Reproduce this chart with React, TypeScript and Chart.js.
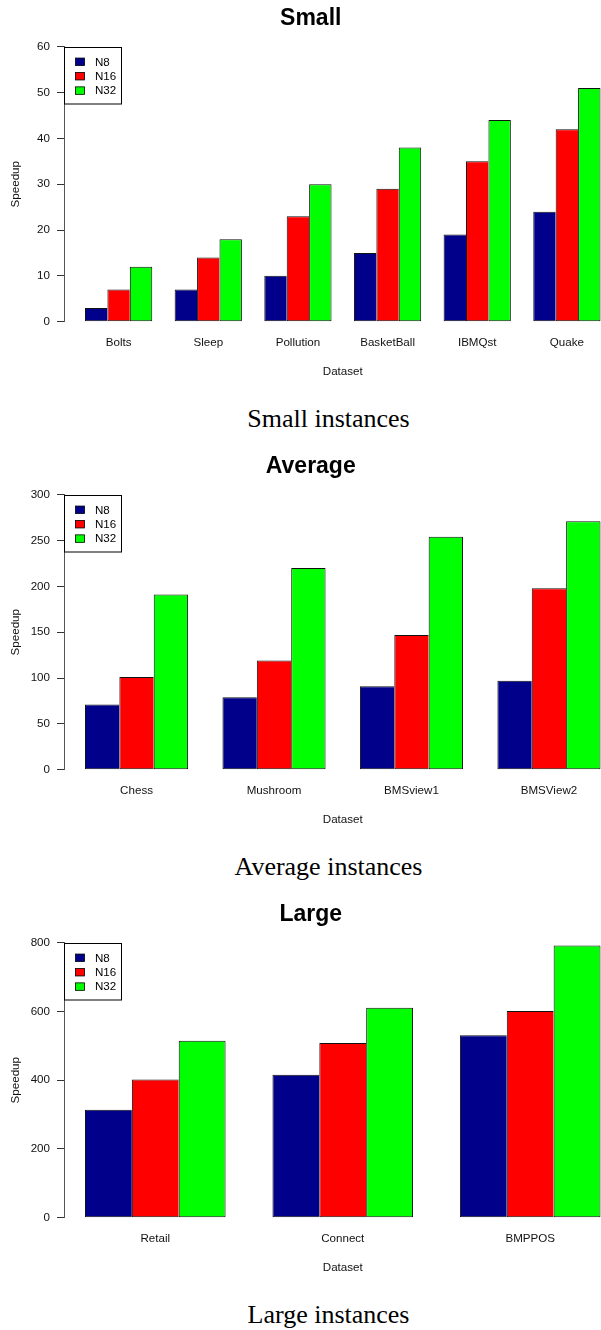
import React, { useEffect, useRef } from "react";
import { Chart, registerables } from "chart.js";

Chart.register(...registerables);

// ---------- data ----------
const seriesLabels = ["N8", "N16", "N32"];
const seriesColors = ["#00008B", "#FF0000", "#00FF00"];

const smallCategories = ["Bolts", "Sleep", "Pollution", "BasketBall", "IBMQst", "Quake"];
const smallN8 = [3, 7, 10, 15, 19, 24];
const smallN16 = [7, 14, 23, 29, 35, 42];
const smallN32 = [12, 18, 30, 38, 44, 51];
const smallYTicks = [0, 10, 20, 30, 40, 50, 60];

const averageCategories = ["Chess", "Mushroom", "BMSview1", "BMSView2"];
const averageN8 = [71, 79, 91, 97];
const averageN16 = [101, 119, 147, 198];
const averageN32 = [191, 220, 254, 271];
const averageYTicks = [0, 50, 100, 150, 200, 250, 300];

const largeCategories = ["Retail", "Connect", "BMPPOS"];
const largeN8 = [314, 416, 531];
const largeN16 = [402, 508, 601];
const largeN32 = [515, 611, 792];
const largeYTicks = [0, 200, 400, 600, 800];

// ---------- layout constants ----------
const CANVAS_W = 686;
const CANVAS_H = 382;
const BLOCK_H = 448;
const Y_AXIS_W = 64;
const PAD_RIGHT = 64.5;
const INSET = 21;
const GROUP_FRACTION = 0.75;
const SANS = '"Liberation Sans", Arial, Helvetica, sans-serif';
const AXIS_FONT = { family: SANS, size: 11.6 };

const boxLegend = {
  id: "boxLegend",
  afterDraw(chart: any) {
    const { ctx, chartArea } = chart;
    const x0 = Math.round(chartArea.left) + 0.5;
    const y0 = Math.round(chartArea.top) + 0.5;
    const w = 57;
    const h = 56.5;
    ctx.save();
    ctx.fillStyle = "#ffffff";
    ctx.fillRect(x0, y0, w, h);
    ctx.strokeStyle = "#000000";
    ctx.lineWidth = 1;
    ctx.strokeRect(x0, y0, w, h);
    ctx.font = `11.6px ${SANS}`;
    ctx.textBaseline = "middle";
    ctx.textAlign = "left";
    chart.data.datasets.forEach((ds: any, i: number) => {
      const cy = y0 + 14.3 + 14.4 * i;
      ctx.fillStyle = ds.backgroundColor;
      ctx.fillRect(x0 + 11, cy - 3.75, 9, 7.5);
      ctx.strokeStyle = "#000000";
      ctx.lineWidth = 0.8;
      ctx.strokeRect(x0 + 11, cy - 3.75, 9, 7.5);
      ctx.fillStyle = "#000000";
      ctx.fillText(ds.label, x0 + 30.5, cy + 0.5);
    });
    ctx.restore();
  },
};

function makeConfig(
  title: string,
  categories: string[],
  n8: number[],
  n16: number[],
  n32: number[],
  yTicks: number[]
) {
  const n = categories.length;
  const areaWidth = CANVAS_W - Y_AXIS_W - PAD_RIGHT;
  const pitch = (areaWidth - 2 * INSET) / (n - 1 + GROUP_FRACTION);
  const half = GROUP_FRACTION / 2 + INSET / pitch;
  const series = [n8, n16, n32];
  const datasets = series.map((values, si) => ({
    label: seriesLabels[si],
    data: values.map((v, i) => ({ x: i, y: v })),
    backgroundColor: seriesColors[si],
    borderColor: "#111111",
    borderWidth:
      si === series.length - 1
        ? 1
        : { top: 1, left: 1, bottom: 1, right: 0 },
    borderSkipped: false,
    categoryPercentage: GROUP_FRACTION,
    barPercentage: 1,
  }));
  return {
    type: "bar",
    data: { datasets },
    plugins: [boxLegend],
    options: {
      animation: false,
      responsive: false,
      devicePixelRatio: 1,
      events: [],
      layout: { padding: { left: 0, right: PAD_RIGHT, top: 0, bottom: 0 } },
      plugins: {
        legend: { display: false },
        tooltip: { enabled: false },
        title: {
          display: true,
          text: title,
          color: "#000000",
          font: { family: SANS, size: 23, weight: "bold" },
          padding: { top: 4.9, bottom: 14.2 },
        },
      },
      scales: {
        x: {
          type: "linear",
          min: -half,
          max: n - 1 + half,
          bounds: "data",
          offset: false,
          afterBuildTicks: (scale: any) => {
            scale.ticks = categories.map((_, i) => ({ value: i }));
          },
          afterFit: (scale: any) => {
            scale.height = 60.3;
          },
          grid: { display: false, drawTicks: false, offset: false },
          border: { display: false },
          ticks: {
            autoSkip: false,
            maxRotation: 0,
            minRotation: 0,
            padding: 14.6,
            color: "#111111",
            font: AXIS_FONT,
            callback: (value: any) => categories[value] ?? "",
          },
          title: {
            display: true,
            text: "Dataset",
            color: "#111111",
            font: AXIS_FONT,
            padding: { top: 0, bottom: 3.3 },
          },
        },
        y: {
          type: "linear",
          min: yTicks[0],
          max: yTicks[yTicks.length - 1],
          afterBuildTicks: (scale: any) => {
            scale.ticks = yTicks.map((v) => ({ value: v }));
          },
          afterFit: (scale: any) => {
            scale.width = Y_AXIS_W;
          },
          grid: {
            drawOnChartArea: false,
            drawTicks: true,
            tickLength: 7,
            color: "#333333",
            lineWidth: 1,
          },
          border: { display: true, color: "#555555", width: 1 },
          ticks: {
            padding: 7,
            color: "#111111",
            font: AXIS_FONT,
          },
          title: {
            display: true,
            text: "Speedup",
            color: "#111111",
            font: AXIS_FONT,
            padding: { top: 8.6, bottom: 0 },
          },
        },
      },
    },
  };
}

function BarBlock(props: {
  top: number;
  title: string;
  caption: string;
  categories: string[];
  n8: number[];
  n16: number[];
  n32: number[];
  yTicks: number[];
}) {
  const ref = useRef<HTMLCanvasElement | null>(null);
  useEffect(() => {
    if (!ref.current) return;
    const chart = new Chart(
      ref.current,
      makeConfig(props.title, props.categories, props.n8, props.n16, props.n32, props.yTicks) as any
    );
    return () => chart.destroy();
  }, []);
  return (
    <div
      style={{
        position: "absolute",
        left: 0,
        top: props.top,
        width: CANVAS_W,
        height: BLOCK_H,
      }}
    >
      <canvas
        ref={ref}
        width={CANVAS_W}
        height={CANVAS_H}
        style={{ display: "block", width: CANVAS_W, height: CANVAS_H }}
      />
      <div
        style={{
          position: "absolute",
          left: 0,
          top: 403,
          width: 657,
          textAlign: "center",
          fontFamily: '"Liberation Serif", "Times New Roman", serif',
          fontSize: 26,
          lineHeight: "31px",
          color: "#000",
          whiteSpace: "nowrap",
        }}
      >
        {props.caption}
      </div>
    </div>
  );
}

export default function App() {
  return (
    <div
      style={{
        position: "absolute",
        left: 0,
        top: 0,
        width: 601,
        height: 1330,
        overflow: "hidden",
        background: "#ffffff",
      }}
    >
      <BarBlock
        top={0}
        title="Small"
        caption="Small instances"
        categories={smallCategories}
        n8={smallN8}
        n16={smallN16}
        n32={smallN32}
        yTicks={smallYTicks}
      />
      <BarBlock
        top={BLOCK_H}
        title="Average"
        caption="Average instances"
        categories={averageCategories}
        n8={averageN8}
        n16={averageN16}
        n32={averageN32}
        yTicks={averageYTicks}
      />
      <BarBlock
        top={BLOCK_H * 2}
        title="Large"
        caption="Large instances"
        categories={largeCategories}
        n8={largeN8}
        n16={largeN16}
        n32={largeN32}
        yTicks={largeYTicks}
      />
    </div>
  );
}
